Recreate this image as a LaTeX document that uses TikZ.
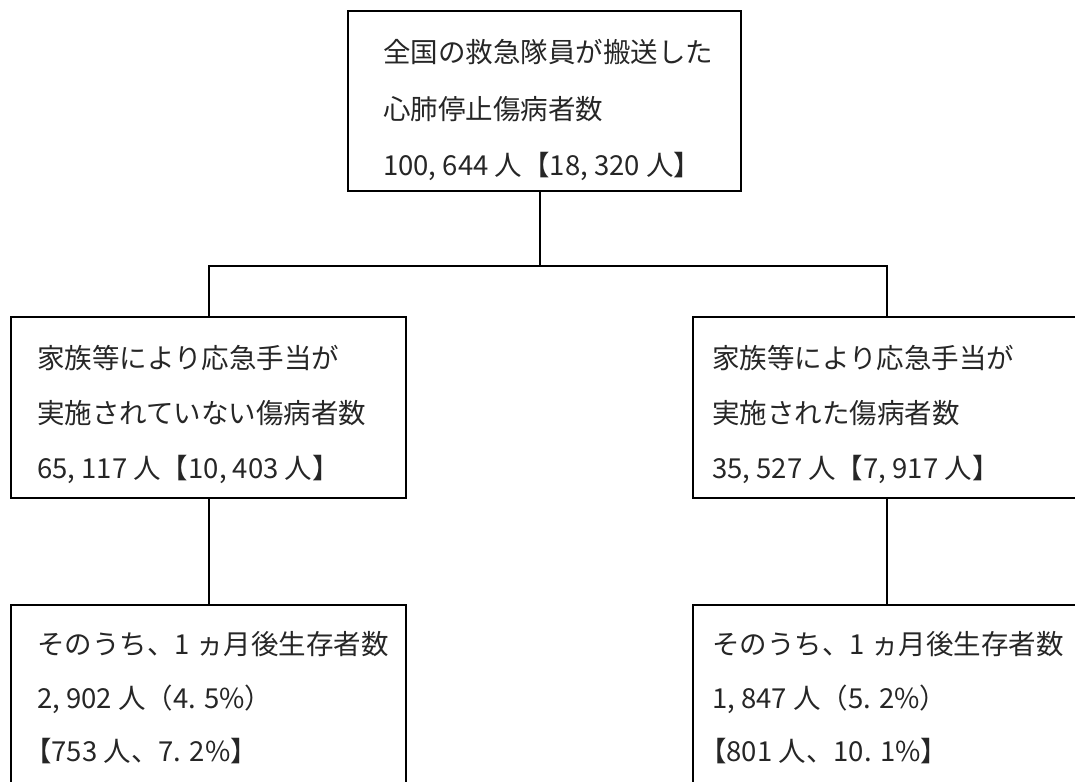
\documentclass[tikz,border=0pt]{standalone}
\usepackage{fontspec}
\setmainfont{Noto Sans CJK JP}
\begin{document}
\begin{tikzpicture}[x=1pt,y=-1pt,
  box/.style={draw=black, line width=2.4pt, inner sep=0pt, anchor=north west},
  conn/.style={draw=black, line width=2pt},
  txt/.style={anchor=base west, inner sep=0pt, font=\fontsize{27.5pt}{33pt}\selectfont, text=black!85}]
\useasboundingbox (0,0) rectangle (1075,781);
% boxes
\node[box, minimum width=393pt, minimum height=180pt] (top) at (347,10) {};
\node[box, minimum width=395pt, minimum height=181pt] (lm) at (10,316) {};
\node[box, minimum width=388pt, minimum height=181pt] (rm) at (692,316) {};
\node[box, minimum width=395pt, minimum height=190pt] (lb) at (10,604) {};
\node[box, minimum width=388pt, minimum height=190pt] (rb) at (692,604) {};
% texts
\node[txt] (t1) at (383,63) {全国の救急隊員が搬送した};
\node[txt] (t2) at (383,119) {心肺停止傷病者数};
\node[txt] (t3) at (383,175) {100, 644 人【18, 320 人】};
\node[txt] (l1) at (37,368) {家族等により応急手当が};
\node[txt] (l2) at (37,423) {実施されていない傷病者数};
\node[txt] (l3) at (37,478) {65, 117 人【10, 403 人】};
\node[txt] (r1) at (712,368) {家族等により応急手当が};
\node[txt] (r2) at (712,423) {実施された傷病者数};
\node[txt] (r3) at (712,478) {35, 527 人【7, 917 人】};
\node[txt] (lb1) at (37,654) {そのうち、1 ヵ月後生存者数};
\node[txt] (lb2) at (37,708) {2, 902 人（4. 5\%）};
\node[txt] (lb3) at (24,761) {【753 人、7. 2\%】};
\node[txt] (rb1) at (712,654) {そのうち、1 ヵ月後生存者数};
\node[txt] (rb2) at (712,708) {1, 847 人（5. 2\%）};
\node[txt] (rb3) at (699,761) {【801 人、10. 1\%】};
% connectors
\coordinate (j) at (540,266);
\draw[conn] (j |- top.south) -- (j);
\draw[conn] (lm.north) |- (j) -| (rm.north);
\draw[conn] (lm.south) -- (lb.north);
\draw[conn] (rm.south) -- (rb.north);
\end{tikzpicture}
\end{document}
